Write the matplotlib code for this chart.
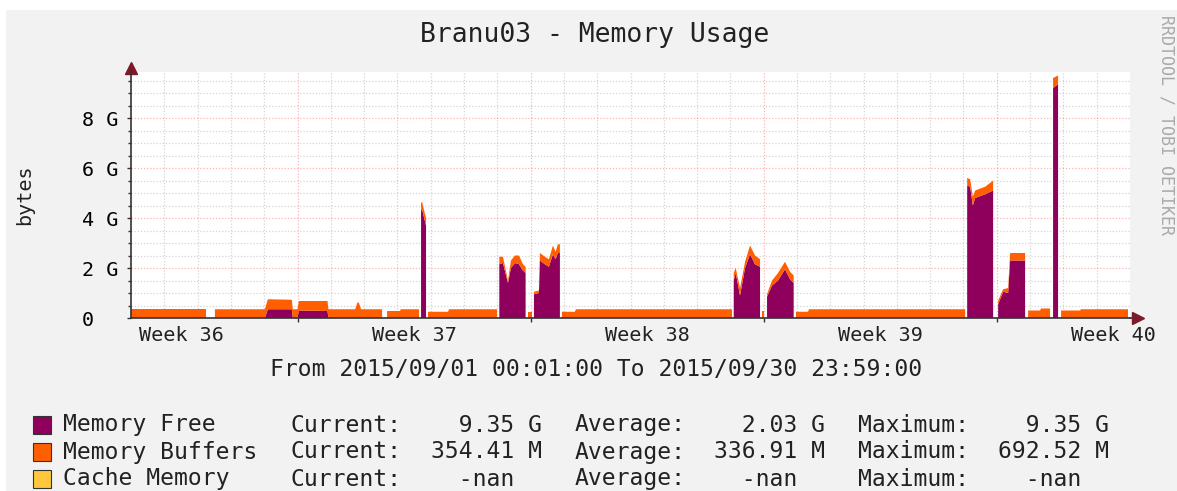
import numpy as np
import matplotlib
matplotlib.use('Agg')
from matplotlib import pyplot as plt
from matplotlib.patches import Rectangle

nan = np.nan

# time in days since 2015/09/01 00:00, values in G
days = [0.00, 2.25, 2.26, 2.51, 2.52, 4.02, 4.11, 4.83, 4.86, 5.00, 5.04, 5.90, 5.93,
        6.73, 6.80, 6.84, 6.91, 7.54, 7.55, 7.68, 7.69, 8.08, 8.10, 8.65, 8.66, 8.70,
        8.71, 8.74, 8.84, 8.86, 8.87, 8.91, 8.92, 9.52, 9.55, 10.99, 11.00, 11.04,
        11.06, 11.17, 11.32, 11.41, 11.53, 11.65, 11.77, 11.85, 11.87, 11.91, 11.92, 12.04,
        12.05, 12.09, 12.10, 12.25, 12.28, 12.43, 12.55, 12.67, 12.75, 12.82, 12.88,
        12.90, 12.93, 12.94, 13.33, 13.36, 18.05, 18.06, 18.09, 18.10, 18.16, 18.29, 18.44,
        18.59, 18.74, 18.89, 18.91, 18.94, 18.95, 19.01, 19.03, 19.09, 19.10, 19.25, 19.43,
        19.64, 19.79, 19.90, 19.92, 19.96, 19.97, 20.33, 20.36, 25.05, 25.07, 25.10, 25.11,
        25.20, 25.28, 25.35, 25.65, 25.89, 25.91, 26.03, 26.04, 26.19, 26.34, 26.40, 26.85,
        26.87, 26.93, 26.94, 27.30, 27.33, 27.60, 27.62, 27.68, 27.69, 27.84, 27.86, 27.92,
        27.93, 28.50, 28.53, 29.94]
mem_free = [0, 0, nan, nan, 0, 0, 0.35, 0.35, 0, 0, 0.30, 0.28, 0,
            0, 0, 0, 0, 0, nan, nan, 0, 0, 0, 0, nan, nan,
            4.30, 4.35, 3.80, 3.70, nan, nan, 0, 0, 0, 0, nan, nan,
            2.15, 2.20, 1.40, 2.00, 2.20, 2.15, 1.90, 1.80, nan, nan, 0, 0,
            nan, nan, 0.95, 1.00, 2.30, 2.15, 2.05, 2.55, 2.35, 2.60, 2.60,
            nan, nan, 0, 0, 0, 0, nan, nan, 1.50, 1.80, 0.90, 2.00,
            2.55, 2.15, 2.05, nan, nan, 0, 0, nan, nan, 0.85, 1.30, 1.50,
            1.95, 1.55, 1.40, nan, nan, 0, 0, 0, 0, nan, nan, 5.30,
            5.25, 4.50, 4.80, 4.95, 5.10, nan, nan, 0.55, 1.05, 1.00, 2.30, 2.30,
            nan, nan, 0, 0, 0, 0, nan, nan, 9.20, 9.35, nan, nan,
            0, 0, 0, 0]
mem_buffers = [0.35, 0.35, nan, nan, 0.35, 0.35, 0.40, 0.38, 0.35, 0.35, 0.38, 0.40, 0.35,
               0.35, 0.62, 0.62, 0.35, 0.35, nan, nan, 0.28, 0.28, 0.35, 0.35, nan, nan,
               0.30, 0.30, 0.30, 0.30, nan, nan, 0.25, 0.25, 0.35, 0.35, nan, nan,
               0.30, 0.25, 0.10, 0.30, 0.30, 0.35, 0.25, 0.25, nan, nan, 0.25, 0.25,
               nan, nan, 0.10, 0.10, 0.30, 0.30, 0.30, 0.35, 0.30, 0.35, 0.35,
               nan, nan, 0.25, 0.25, 0.35, 0.35, nan, nan, 0.30, 0.20, 0.30, 0.25,
               0.35, 0.35, 0.30, nan, nan, 0.30, 0.30, nan, nan, 0.10, 0.20, 0.30,
               0.30, 0.30, 0.30, nan, nan, 0.25, 0.25, 0.35, 0.35, nan, nan, 0.30,
               0.30, 0.35, 0.30, 0.30, 0.40, nan, nan, 0.15, 0.10, 0.20, 0.30, 0.30,
               nan, nan, 0.30, 0.30, 0.38, 0.38, nan, nan, 0.40, 0.35, nan, nan,
               0.30, 0.30, 0.35, 0.35]

week_labels = ['Week 36', 'Week 37', 'Week 38', 'Week 39', 'Week 40']
week_label_days = [1.5, 8.5, 15.5, 22.5, 29.5]
week_grid_days = [5, 12, 19, 26]
y_ticks = [0, 2, 4, 6, 8]
y_ticklabels = ['0  ', '2 G', '4 G', '6 G', '8 G']

legend_names = ['Memory Free', 'Memory Buffers', 'Cache Memory']
legend_current = ['  9.35 G', '354.41 M', '  -nan  ']
legend_average = ['  2.03 G', '336.91 M', '  -nan  ']
legend_maximum = ['  9.35 G', '692.52 M', '  -nan  ']
colors = ['#8F005C', '#FF5F00', '#FFC73B']

W, H = 1177, 491
MONO = 'DejaVu Sans Mono'
BG = '#f2f2f2'


def fx(px):
    return px / W


def fy(py):
    return 1 - py / H


def main():
    fig = plt.figure(figsize=(W / 100, H / 100), dpi=100, facecolor='white')
    fig.patches.append(Rectangle((fx(6), 0), 1, fy(10), transform=fig.transFigure,
                                 facecolor=BG, edgecolor='none', zorder=-10))

    ax = fig.add_axes([fx(131), fy(318), fx(1130) - fx(131), fy(72) - fy(318)])
    ax.set_facecolor('white')
    ax.set_xlim(0, 30)
    ax.set_ylim(0, 9.84)

    t = np.array(days)
    free = np.array(mem_free)
    buf = np.array(mem_buffers)
    ax.fill_between(t, 0, free, color=colors[0], lw=0, zorder=3)
    ax.fill_between(t, free, free + buf, color=colors[1], lw=0, zorder=3)

    # grid
    ax.set_xticks(week_grid_days)
    ax.set_xticks([d for d in range(1, 30) if d not in week_grid_days], minor=True)
    ax.set_xticklabels([])
    ax.set_yticks(y_ticks)
    ax.set_yticklabels(y_ticklabels, family=MONO, fontsize=14.5)
    ax.set_yticks(np.arange(0, 9.6, 0.5), minor=True)
    ax.grid(which='minor', color='#ababab', alpha=0.5, linestyle=(0, (1, 1.5)), lw=0.9, zorder=1)
    ax.grid(which='major', color='#ff0000', alpha=0.3, linestyle=(0, (1, 1.5)), lw=0.9, zorder=1)
    ax.tick_params(which='both', direction='out', color='#333333', width=1)
    ax.tick_params(which='major', length=3, pad=6)
    ax.tick_params(which='minor', length=2)
    ax.tick_params(axis='x', which='minor', length=0)

    for s in ['top', 'right']:
        ax.spines[s].set_visible(False)
    for s in ['left', 'bottom']:
        ax.spines[s].set_color('#333333')
        ax.spines[s].set_linewidth(1.2)
        ax.spines[s].set_zorder(4)

    # axis arrows
    ax.plot([0, 0], [1, 1.02], transform=ax.transAxes, color='#333333', lw=1.2, clip_on=False)
    ax.plot([1, 1.008], [0, 0], transform=ax.transAxes, color='#333333', lw=1.2, clip_on=False)
    ax.plot([0], [1.015], marker='^', ms=8, color='#7a1a2a', transform=ax.transAxes, clip_on=False)
    ax.plot([1.008], [0], marker='>', ms=8, color='#7a1a2a', transform=ax.transAxes, clip_on=False)

    for d, lab in zip(week_label_days, week_labels):
        ax.text(d, -0.073, lab, transform=ax.get_xaxis_transform(), ha='center', va='center',
                family=MONO, fontsize=14.5, color='#222222')

    fig.text(fx(595), fy(35), 'Branu03 - Memory Usage', ha='center', va='center',
             family=MONO, fontsize=19, color='#222222')
    fig.text(fx(25), fy(195), 'bytes', rotation=90, ha='center', va='center',
             family=MONO, fontsize=14.5, color='#222222')
    fig.text(fx(596), fy(369), 'From 2015/09/01 00:01:00 To 2015/09/30 23:59:00',
             ha='center', va='center', family=MONO, fontsize=16.6, color='#222222')
    fig.text(fx(1166), fy(125), 'RRDTOOL / TOBI OETIKER', rotation=270, ha='center', va='center',
             family=MONO, fontsize=12, color='#aaaaaa')

    # legend
    rows_y = [425, 452, 479]
    for i, yy in enumerate(rows_y):
        fig.patches.append(Rectangle((fx(33), fy(yy + 9)), fx(18), 18 / H, transform=fig.transFigure,
                                     facecolor=colors[i], edgecolor='#333333', lw=0.8))
        kw = dict(va='center', family=MONO, fontsize=16.6, color='#222222')
        fig.text(fx(63), fy(yy), legend_names[i], **kw)
        fig.text(fx(291), fy(yy), 'Current:', **kw)
        fig.text(fx(431), fy(yy), legend_current[i], **kw)
        fig.text(fx(575), fy(yy), 'Average:', **kw)
        fig.text(fx(714), fy(yy), legend_average[i], **kw)
        fig.text(fx(858), fy(yy), 'Maximum:', **kw)
        fig.text(fx(998), fy(yy), legend_maximum[i], **kw)

    fig.savefig('out.png', dpi=100, facecolor=fig.get_facecolor())


if __name__ == '__main__':
    main()
